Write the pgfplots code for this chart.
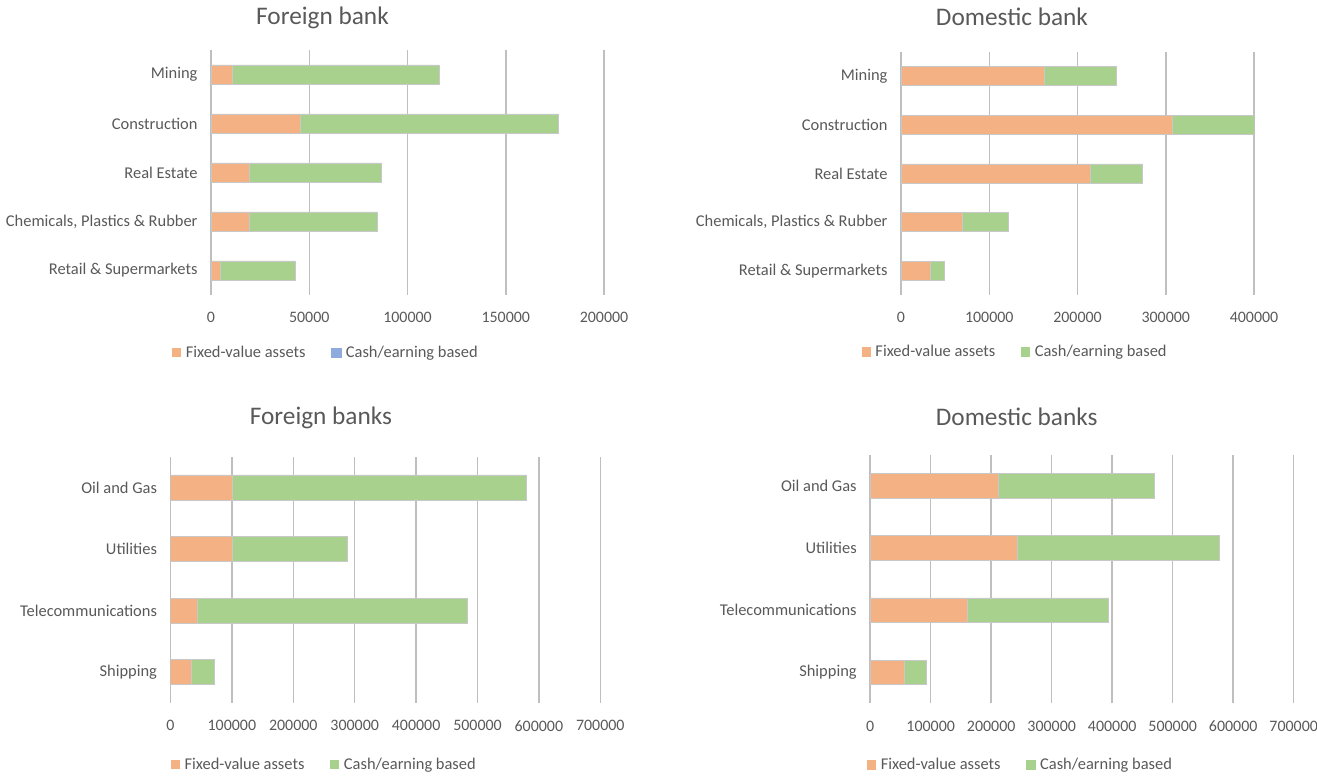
\documentclass[border=0pt]{standalone}
\usepackage{pgfplots}
\pgfplotsset{compat=1.18}
\usepackage{fontspec}
\setmainfont{Carlito}

\definecolor{fixedc}{HTML}{F4B183}
\definecolor{cashc}{HTML}{A9D18E}
\definecolor{cashblue}{HTML}{8FAADC}
\definecolor{txt}{HTML}{595959}
\definecolor{gridc}{HTML}{BFBFBF}
\definecolor{edgec}{HTML}{C8C8C8}

\pgfplotsset{
  panel/.style={
    scale only axis, xbar stacked, anchor=south west,
    axis line style={draw=none},
    xmajorgrids, major grid style={draw=gridc, line width=1.5bp},
    tick style={draw=none},
    xmin=0, enlargelimits=false,
    scaled x ticks=false,
    x tick label style={/pgf/number format/fixed, /pgf/number format/1000 sep={},
      /pgf/number format/assume math mode=true,
      font=\fontsize{16}{19}\selectfont, text=txt, yshift=-14bp},
    y tick label style={font=\fontsize{16.5}{19}\selectfont, text=txt, xshift=-10bp},
    title style={font=\fontsize{25.4}{30}\selectfont, text=txt, anchor=center, yshift=-7.5bp},
    legend columns=2,
    legend style={draw=none, fill=none, font=\fontsize{16.5}{19}\selectfont,
      text=txt, anchor=center,
      /tikz/every odd column/.append style={column sep=3bp},
      /tikz/every even column/.append style={column sep=24bp},
      nodes={inner sep=1.5bp}},
    legend image code/.code={\fill[##1, draw=none] (0bp,-4.5bp) rectangle (9.5bp,5bp);},
  },
  fixedbar/.style={fill=fixedc, draw=edgec, line width=0.8bp},
  cashbar/.style={fill=cashc, draw=edgec, line width=0.8bp},
}

% sector loans by lender type, in thousands
\pgfplotstableread{
y fixed cash
4 11000 105000
3 45500 131500
2 19500 67200
1 19500 65200
0 4800 38200
}\foreignA
\pgfplotstableread{
y fixed cash
4 162000 82300
3 307000 93500
2 215000 59000
1 70000 52200
0 33000 15900
}\domesticA
\pgfplotstableread{
y fixed cash
3 100000 479000
2 100000 188500
1 43000 441000
0 34000 37700
}\foreignB
\pgfplotstableread{
y fixed cash
3 212500 258000
2 244000 334000
1 160000 234500
0 56500 37200
}\domesticB

\begin{document}
\begin{tikzpicture}
\path[use as bounding box] (0,0) rectangle (1317bp,782bp);

% top left
\begin{axis}[panel, at={(211bp,487bp)}, width=393bp, height=245bp,
  xmax=200000, xtick={0,50000,...,200000},
  ymin=-0.5, ymax=4.5, ytick={0,...,4},
  yticklabels={Retail \& Supermarkets, {Chemicals, Plastics \& Rubber}, Real Estate, Construction, Mining},
  bar width=19bp,
  title={Foreign bank}, title style={at={(0.2837,1.1388)}},
  legend style={at={(0.2913,-0.2367)}}]
\addplot[fixedbar] table[x=fixed, y=y] {\foreignA};
\addplot[cashbar, legend image code/.code={\fill[cashblue] (0bp,-4.5bp) rectangle (9.5bp,5bp);}] table[x=cash, y=y] {\foreignA};
\legend{Fixed-value assets, Cash/earning based}
\end{axis}

% top right
\begin{axis}[panel, at={(901bp,487bp)}, width=353bp, height=243bp,
  xmax=400000, xtick={0,100000,...,400000},
  ymin=-0.5, ymax=4.5, ytick={0,...,4},
  yticklabels={Retail \& Supermarkets, {Chemicals, Plastics \& Rubber}, Real Estate, Construction, Mining},
  bar width=19bp,
  title={Domestic bank}, title style={at={(0.3144,1.152)}},
  legend style={at={(0.3224,-0.2346)}}]
\addplot[fixedbar] table[x=fixed, y=y] {\domesticA};
\addplot[cashbar] table[x=cash, y=y] {\domesticA};
\legend{Fixed-value assets, Cash/earning based}
\end{axis}

% bottom left
\begin{axis}[panel, at={(170.5bp,79bp)}, width=429.8bp, height=246.3bp,
  xmax=700000, xtick={0,100000,...,700000},
  ymin=-0.5, ymax=3.5, ytick={0,...,3},
  yticklabels={Shipping, Telecommunications, Utilities, Oil and Gas},
  bar width=25bp,
  title={Foreign banks}, title style={at={(0.350,1.162)}},
  legend style={at={(0.357,-0.2517)}}]
\addplot[fixedbar] table[x=fixed, y=y] {\foreignB};
\addplot[cashbar] table[x=cash, y=y] {\foreignB};
\legend{Fixed-value assets, Cash/earning based}
\end{axis}

% bottom right
\begin{axis}[panel, at={(870.2bp,78.7bp)}, width=423.5bp, height=248.3bp,
  xmax=700000, xtick={0,100000,...,700000},
  ymin=-0.5, ymax=3.5, ytick={0,...,3},
  yticklabels={Shipping, Telecommunications, Utilities, Oil and Gas},
  bar width=24.5bp,
  title={Domestic banks}, title style={at={(0.346,1.161)}},
  legend style={at={(0.354,-0.2485)}}]
\addplot[fixedbar] table[x=fixed, y=y] {\domesticB};
\addplot[cashbar] table[x=cash, y=y] {\domesticB};
\legend{Fixed-value assets, Cash/earning based}
\end{axis}
\end{tikzpicture}
\end{document}
